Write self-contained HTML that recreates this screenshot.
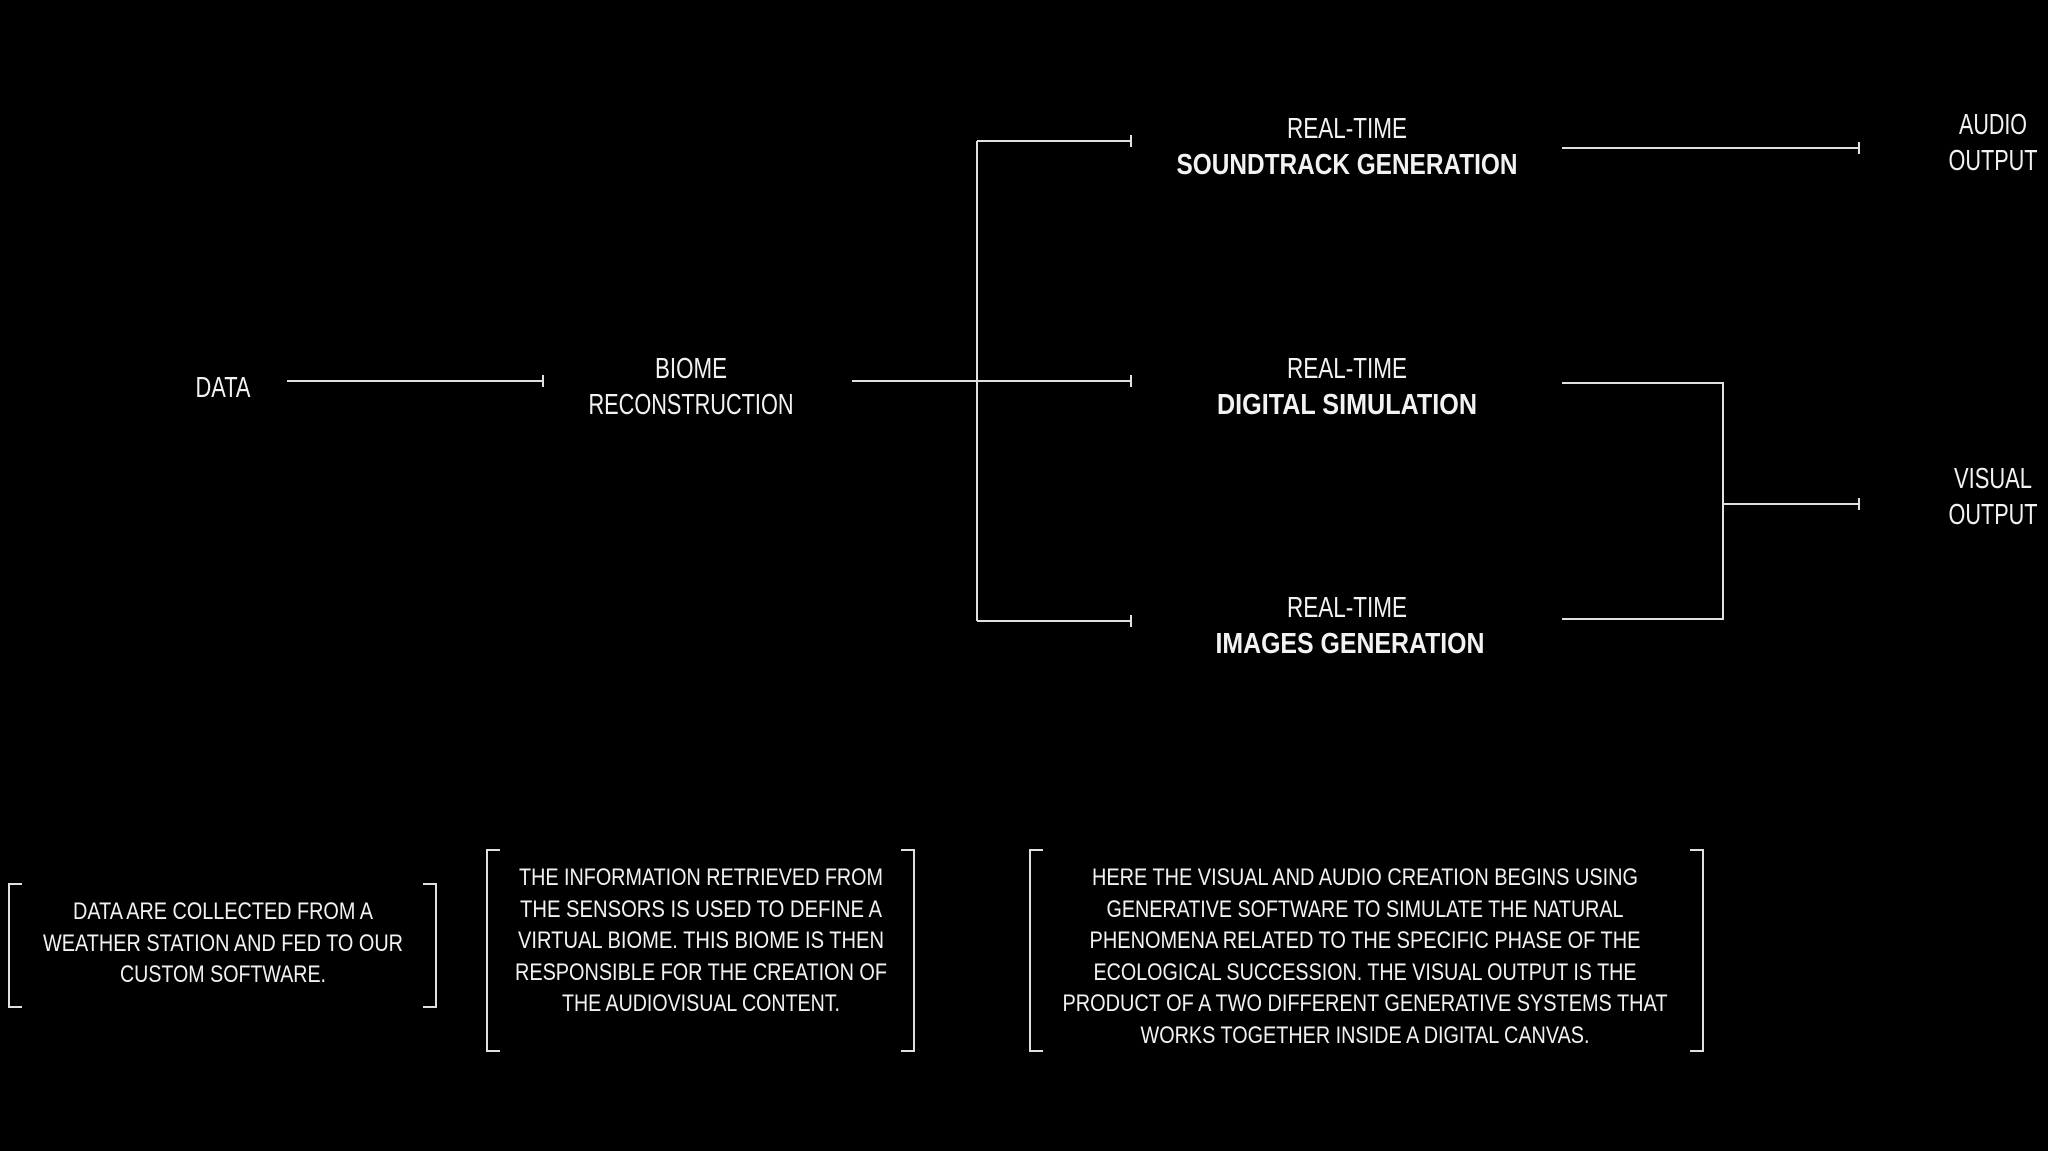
<!DOCTYPE html>
<html><head><meta charset="utf-8"><style>
html,body{margin:0;padding:0;background:#000;}
svg{display:block;}
text{font-family:"Liberation Sans Narrow","Liberation Sans",sans-serif;fill:#f2f2f2;text-anchor:middle;}
.b{font-weight:bold;}
</style></head><body>
<svg width="2048" height="1151" viewBox="0 0 2048 1151" xmlns="http://www.w3.org/2000/svg">
<rect width="2048" height="1151" fill="#000"/>
<g stroke="#e0e0e0" stroke-width="2" fill="none">
<path d="M287 381H543M543 375V387"/>
<path d="M852 381H1131M1131 375V387"/>
<path d="M977 141V621"/>
<path d="M977 141H1131M1131 135V147"/>
<path d="M977 621H1131M1131 615V627"/>
<path d="M1562 148H1859M1859 142V154"/>
<path d="M1562 383H1723V619H1562"/>
<path d="M1723 504H1859M1859 498V510"/>
<path d="M22 884H9V1007H22M423 884H436V1007H423"/>
<path d="M500 850H487V1051H500M901 850H914V1051H901"/>
<path d="M1043 850H1030V1051H1043M1690 850H1703V1051H1690"/>
</g>
<g font-size="29" lengthAdjust="spacingAndGlyphs">
<text x="223" y="397" textLength="55" lengthAdjust="spacingAndGlyphs">DATA</text>
<text x="691" y="378" textLength="72" lengthAdjust="spacingAndGlyphs">BIOME</text>
<text x="691" y="414" textLength="205" lengthAdjust="spacingAndGlyphs">RECONSTRUCTION</text>
<text x="1347" y="138" textLength="120" lengthAdjust="spacingAndGlyphs">REAL-TIME</text>
<text class="b" x="1347" y="174" textLength="341" lengthAdjust="spacingAndGlyphs">SOUNDTRACK GENERATION</text>
<text x="1347" y="378" textLength="120" lengthAdjust="spacingAndGlyphs">REAL-TIME</text>
<text class="b" x="1347" y="414" textLength="260" lengthAdjust="spacingAndGlyphs">DIGITAL SIMULATION</text>
<text x="1347" y="617" textLength="120" lengthAdjust="spacingAndGlyphs">REAL-TIME</text>
<text class="b" x="1350" y="653" textLength="269" lengthAdjust="spacingAndGlyphs">IMAGES GENERATION</text>
<text x="1993" y="134" textLength="68" lengthAdjust="spacingAndGlyphs">AUDIO</text>
<text x="1993" y="170" textLength="89" lengthAdjust="spacingAndGlyphs">OUTPUT</text>
<text x="1993" y="488" textLength="78" lengthAdjust="spacingAndGlyphs">VISUAL</text>
<text x="1993" y="524" textLength="89" lengthAdjust="spacingAndGlyphs">OUTPUT</text>
</g>
<g font-size="24">
<text x="223" y="919" textLength="300" lengthAdjust="spacingAndGlyphs">DATA ARE COLLECTED FROM A</text>
<text x="223" y="951" textLength="360" lengthAdjust="spacingAndGlyphs">WEATHER STATION AND FED TO OUR</text>
<text x="223" y="982" textLength="206" lengthAdjust="spacingAndGlyphs">CUSTOM SOFTWARE.</text>
<text x="701" y="885" textLength="364" lengthAdjust="spacingAndGlyphs">THE INFORMATION RETRIEVED FROM</text>
<text x="701" y="917" textLength="362" lengthAdjust="spacingAndGlyphs">THE SENSORS IS USED TO DEFINE A</text>
<text x="701" y="948" textLength="366" lengthAdjust="spacingAndGlyphs">VIRTUAL BIOME. THIS BIOME IS THEN</text>
<text x="701" y="980" textLength="372" lengthAdjust="spacingAndGlyphs">RESPONSIBLE FOR THE CREATION OF</text>
<text x="701" y="1011" textLength="278" lengthAdjust="spacingAndGlyphs">THE AUDIOVISUAL CONTENT.</text>
<text x="1365" y="885" textLength="546" lengthAdjust="spacingAndGlyphs">HERE THE VISUAL AND AUDIO CREATION BEGINS USING</text>
<text x="1365" y="917" textLength="517" lengthAdjust="spacingAndGlyphs">GENERATIVE SOFTWARE TO SIMULATE THE NATURAL</text>
<text x="1365" y="948" textLength="551" lengthAdjust="spacingAndGlyphs">PHENOMENA RELATED TO THE SPECIFIC PHASE OF THE</text>
<text x="1365" y="980" textLength="543" lengthAdjust="spacingAndGlyphs">ECOLOGICAL SUCCESSION. THE VISUAL OUTPUT IS THE</text>
<text x="1365" y="1011" textLength="605" lengthAdjust="spacingAndGlyphs">PRODUCT OF A TWO DIFFERENT GENERATIVE SYSTEMS THAT</text>
<text x="1365" y="1043" textLength="449" lengthAdjust="spacingAndGlyphs">WORKS TOGETHER INSIDE A DIGITAL CANVAS.</text>
</g>
</svg>
</body></html>
